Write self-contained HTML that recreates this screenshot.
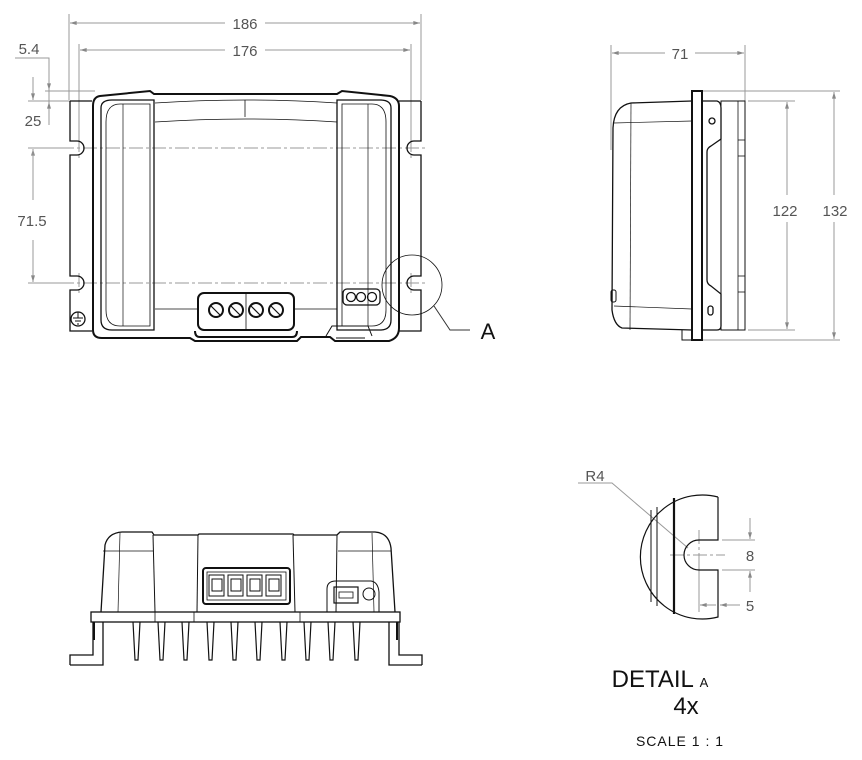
<!DOCTYPE html>
<html><head><meta charset="utf-8"><style>
html,body{margin:0;padding:0;background:#fff;}
svg{display:block;}
text{font-family:"Liberation Sans",sans-serif;}
</style></head><body>
<svg width="862" height="760" viewBox="0 0 862 760" xmlns="http://www.w3.org/2000/svg">
<defs>
<marker id="ar" viewBox="0 0 10 6" refX="10" refY="3" markerWidth="10" markerHeight="4" orient="auto-start-reverse" markerUnits="userSpaceOnUse"><path d="M0,0 L10,3 L0,6z" fill="#888"/></marker>
</defs>
<g stroke="#999" stroke-width="1" fill="none">
<line x1="69" y1="14" x2="69" y2="100"/><line x1="421" y1="14" x2="421" y2="100"/>
<line x1="70" y1="23" x2="225" y2="23" marker-start="url(#ar)"/><line x1="265" y1="23" x2="420" y2="23" marker-end="url(#ar)"/>
<line x1="79" y1="44" x2="79" y2="148"/><line x1="411" y1="44" x2="411" y2="148"/>
<line x1="80" y1="50" x2="225" y2="50" marker-start="url(#ar)"/><line x1="265" y1="50" x2="410" y2="50" marker-end="url(#ar)"/>
<polyline points="15,58 49,58 49,125"/>
<line x1="45" y1="91" x2="95" y2="91"/>
<line x1="49" y1="77" x2="49" y2="90" marker-end="url(#ar)"/>
<line x1="49" y1="115" x2="49" y2="102" marker-end="url(#ar)"/>
<line x1="28" y1="101" x2="70" y2="101"/>
<line x1="33" y1="77" x2="33" y2="100" marker-end="url(#ar)"/>
<line x1="33" y1="170" x2="33" y2="149" marker-end="url(#ar)"/>
<line x1="28" y1="148" x2="70" y2="148"/>
<line x1="28" y1="283" x2="70" y2="283"/>
<line x1="33" y1="200" x2="33" y2="149"/>
<line x1="33" y1="240" x2="33" y2="282" marker-end="url(#ar)"/>
<line x1="611" y1="45" x2="611" y2="150"/><line x1="745" y1="45" x2="745" y2="101"/>
<line x1="612" y1="53" x2="665" y2="53" marker-start="url(#ar)"/><line x1="695" y1="53" x2="744" y2="53" marker-end="url(#ar)"/>
<line x1="700" y1="91" x2="840" y2="91"/><line x1="748" y1="101" x2="795" y2="101"/>
<line x1="748" y1="330" x2="795" y2="330"/><line x1="700" y1="340" x2="840" y2="340"/>
<line x1="787" y1="102" x2="787" y2="195" marker-start="url(#ar)"/><line x1="787" y1="222" x2="787" y2="329" marker-end="url(#ar)"/>
<line x1="834" y1="92" x2="834" y2="195" marker-start="url(#ar)"/><line x1="834" y1="222" x2="834" y2="339" marker-end="url(#ar)"/>
<line x1="722" y1="540" x2="755" y2="540"/><line x1="722" y1="570" x2="755" y2="570"/>
<line x1="750" y1="518" x2="750" y2="539" marker-end="url(#ar)"/><line x1="750" y1="592" x2="750" y2="571" marker-end="url(#ar)"/>
<line x1="699" y1="560" x2="699" y2="612"/>
<line x1="700" y1="605" x2="716" y2="605" marker-start="url(#ar)" />
<line x1="720" y1="605" x2="740" y2="605" marker-start="url(#ar)"/>
<polyline points="578,483 612,483 688,548"/>
<polyline points="434,306 450,330 470,330" stroke="#333"/>
</g>
<g stroke="#999" stroke-width="1" stroke-dasharray="14,3,3,3" fill="none">
<line x1="60" y1="148" x2="428" y2="148"/><line x1="60" y1="283" x2="428" y2="283"/>
<line x1="79" y1="138" x2="79" y2="160"/><line x1="411" y1="138" x2="411" y2="160"/>
<line x1="79" y1="273" x2="79" y2="295"/><line x1="411" y1="273" x2="411" y2="295"/>
<line x1="670" y1="555" x2="725" y2="555"/><line x1="699" y1="530" x2="699" y2="580"/>
</g>
<g fill="#555" font-size="15">
<text x="245" y="29" text-anchor="middle">186</text>
<text x="245" y="56" text-anchor="middle">176</text>
<text x="29" y="54" text-anchor="middle">5.4</text>
<text x="33" y="126" text-anchor="middle">25</text>
<text x="32" y="226" text-anchor="middle">71.5</text>
<text x="680" y="59" text-anchor="middle">71</text>
<text x="785" y="216" text-anchor="middle">122</text>
<text x="835" y="216" text-anchor="middle">132</text>
<text x="595" y="481" text-anchor="middle">R4</text>
<text x="750" y="561" text-anchor="middle">8</text>
<text x="750" y="611" text-anchor="middle">5</text>
</g>
<text x="488" y="339" font-size="22" fill="#111" text-anchor="middle">A</text>
<text x="660" y="687" font-size="24" fill="#111" text-anchor="middle">DETAIL <tspan font-size="13">A</tspan></text>
<text x="686" y="714" font-size="24" fill="#111" text-anchor="middle">4x</text>
<text x="680" y="746" font-size="14" fill="#111" text-anchor="middle" letter-spacing="1">SCALE 1 : 1</text>

<g stroke="#111" stroke-width="1.3" fill="none">
<path d="M70,101 H92 M70,101 V141 H77 A7,7 0 0 1 77,155 H70 V276 H77 A7,7 0 0 1 77,290 H70 V331 H92"/>
<path d="M421,101 H399 M421,101 V141 H414 A7,7 0 0 0 414,155 H421 V276 H414 A7,7 0 0 0 414,290 H421 V331 H399"/>
<path d="M100,96 Q93,97 93,106 V330 Q93,338 102,338 H190 L195,341 H297 L301,337 H330 L335,341 H389 Q399,338 399,328 V106 Q399,98 390,96 L342,91 L337,94 H154 L150,91Z" stroke-width="2"/>
<path d="M101,108 Q101,100 112,100 H154 V330 H112 Q101,330 101,320Z"/>
<path d="M391,108 Q391,100 380,100 H337 V330 H380 Q391,330 391,320Z"/>
<path d="M106,122 Q106,104 120,104 H150 V326 H120 Q106,326 106,310Z" stroke-width="0.8"/>
<path d="M386,122 Q386,104 372,104 H342 V326 H372 Q386,326 386,310Z" stroke-width="0.8"/>
<line x1="123" y1="104" x2="123" y2="326" stroke-width="0.7"/>
<line x1="368" y1="104" x2="368" y2="326" stroke-width="0.7"/>
<path d="M155,103 Q245,97 337,103" stroke-width="0.8"/>
<path d="M155,122 Q245,116 337,122" stroke-width="0.8"/>
<line x1="245" y1="100" x2="245" y2="117" stroke-width="0.8"/>
<path d="M155,309 H197 M293,309 H337" stroke-width="0.8"/>
<rect x="198" y="293" width="96" height="37" rx="6" stroke-width="2"/>
<line x1="246" y1="293" x2="246" y2="330" stroke-width="0.8"/>
<path d="M195,331 Q195,337 200,337 H292 Q297,337 297,331" stroke-width="2"/>
<g stroke-width="2"><circle cx="216" cy="310" r="7"/><circle cx="236" cy="310" r="7"/><circle cx="256" cy="310" r="7"/><circle cx="276" cy="310" r="7"/></g>
<g stroke-width="1.2"><line x1="211" y1="306" x2="220" y2="315"/><line x1="231" y1="306" x2="240" y2="315"/><line x1="251" y1="306" x2="260" y2="315"/><line x1="271" y1="306" x2="280" y2="315"/></g>
<rect x="343" y="289" width="37" height="16" rx="4"/>
<circle cx="351" cy="297" r="4.5"/><circle cx="361" cy="297" r="4.5"/><circle cx="372" cy="297" r="4.5"/>
<path d="M326,336 L332,326 H368 L372,336 M336,338 H365" stroke-width="1"/>
<circle cx="78" cy="319" r="7" stroke-width="1.3"/>
<path d="M78,312 V318 M73,318 H83 M75,321 H81 M77,324 H79" stroke-width="1"/>
<circle cx="412" cy="285" r="30" stroke-width="0.8"/>
</g>

<g stroke="#111" stroke-width="1.3" fill="none">
<path d="M692,101 L631,103 Q614,106 613,128 L612,310 Q614,325 622,328 L692,330" />
<line x1="631" y1="103" x2="630" y2="330" stroke-width="0.7"/>
<line x1="614" y1="123" x2="692" y2="121" stroke-width="0.7"/>
<line x1="614" y1="306" x2="692" y2="309" stroke-width="0.7"/>
<rect x="611" y="290" width="5" height="12" rx="2" stroke-width="1"/>
<path d="M682,330 V340 H692" stroke-width="1"/>
<rect x="692" y="91" width="10" height="249" stroke-width="2"/>
<path d="M702,101 H717 Q721,102 721,108 V139 L711,146 Q707,148 707,152 V280 Q707,284 711,286 L721,294 V326 Q721,330 717,330 H702"/>
<circle cx="712" cy="121" r="3"/><rect x="708" y="306" width="5" height="9" rx="2.5"/>
<rect x="721" y="101" width="24" height="229" stroke-width="1"/>
<line x1="738" y1="101" x2="738" y2="330" stroke-width="0.8"/>
<line x1="738" y1="140" x2="745" y2="140" stroke-width="0.8"/><line x1="738" y1="156" x2="745" y2="156" stroke-width="0.8"/>
<line x1="738" y1="276" x2="745" y2="276" stroke-width="0.8"/><line x1="738" y1="292" x2="745" y2="292" stroke-width="0.8"/>
</g>

<g stroke="#111" stroke-width="1.3" fill="none">
<path d="M101,612 L105,545 Q108,533 122,532 H152 L154,535 H198 L199,534 H293 L294,535 H337 L340,532 H375 Q389,533 391,548 L395,612"/>
<line x1="103" y1="551" x2="153" y2="551" stroke-width="0.7"/>
<line x1="338" y1="551" x2="391" y2="551" stroke-width="0.7"/>
<line x1="153" y1="535" x2="155" y2="612" stroke-width="1"/>
<line x1="120" y1="533" x2="118" y2="612" stroke-width="0.7"/>
<line x1="198" y1="535" x2="197" y2="612" stroke-width="1"/>
<line x1="293" y1="535" x2="295" y2="612" stroke-width="1"/>
<line x1="337" y1="535" x2="336" y2="612" stroke-width="1"/>
<line x1="372" y1="533" x2="374" y2="612" stroke-width="0.7"/>
<rect x="203" y="568" width="87" height="36" rx="3" stroke-width="2"/>
<rect x="207" y="572" width="79" height="28" stroke-width="0.8"/>
<g stroke-width="1"><rect x="209" y="575" width="15" height="21"/><rect x="228" y="575" width="15" height="21"/><rect x="247" y="575" width="15" height="21"/><rect x="266" y="575" width="15" height="21"/>
<rect x="212" y="579" width="10" height="12"/><rect x="231" y="579" width="10" height="12"/><rect x="250" y="579" width="10" height="12"/><rect x="269" y="579" width="10" height="12"/></g>
<path d="M327,612 V589 Q327,581 336,581 H371 Q378,582 379,592 V612" stroke-width="1"/>
<rect x="334" y="587" width="24" height="16" stroke-width="1.2"/>
<rect x="339" y="592" width="14" height="6" stroke-width="0.8"/>
<circle cx="369" cy="594" r="6" stroke-width="1"/>
<rect x="91" y="612" width="309" height="10" stroke-width="1.3"/>
<line x1="155" y1="612" x2="155" y2="622" stroke-width="0.8"/><line x1="194" y1="612" x2="194" y2="622" stroke-width="0.8"/><line x1="300" y1="612" x2="300" y2="622" stroke-width="0.8"/>
<path d="M70,665 H103 V622 M70,665 V655 H93 V622"/>
<path d="M422,665 H389 V622 M422,665 V655 H399 V622"/>
<line x1="94" y1="622" x2="94" y2="640" stroke-width="2"/><line x1="397" y1="622" x2="397" y2="640" stroke-width="2"/>
<g stroke-width="1.2">
<path d="M133,622 L135,660 H138 L140,622"/>
<path d="M158,622 L160,660 H163 L165,622"/>
<path d="M182,622 L184,660 H187 L189,622"/>
<path d="M207,622 L209,660 H212 L214,622"/>
<path d="M231,622 L233,660 H236 L238,622"/>
<path d="M255,622 L257,660 H260 L262,622"/>
<path d="M280,622 L282,660 H285 L287,622"/>
<path d="M304,622 L306,660 H309 L311,622"/>
<path d="M328,622 L330,660 H333 L335,622"/>
<path d="M353,622 L355,660 H358 L360,622"/>
</g>
</g>

<g stroke="#111" stroke-width="1.2" fill="none">
<path d="M718,497 V540 H699 A15,15 0 0 0 699,570 H718 V617 A62,62 0 1 1 718,497" />
<line x1="651" y1="510" x2="651" y2="602" stroke-width="1"/>
<line x1="657" y1="507" x2="657" y2="606" stroke-width="1"/>
<line x1="674" y1="498" x2="674" y2="614" stroke-width="2.2"/>
</g>
</svg>
</body></html>
